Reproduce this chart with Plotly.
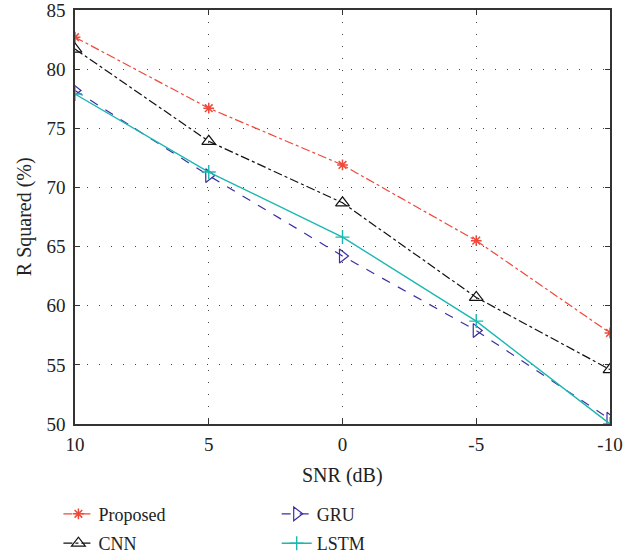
import plotly.graph_objects as go

snr = [10, 5, 0, -5, -10]
proposed = [82.7, 76.7, 71.9, 65.5, 57.7]
cnn = [81.7, 73.9, 68.7, 60.7, 54.6]
gru = [78.2, 71.0, 64.2, 57.9, 50.4]
lstm = [77.9, 71.3, 65.8, 58.7, 50.0]
x_ticks = [10, 5, 0, -5, -10]
y_ticks = [50, 55, 60, 65, 70, 75, 80, 85]

FONT = "Liberation Serif"
fig = go.Figure()
fig.add_trace(go.Scatter(x=snr, y=proposed, name="Proposed", mode="lines+markers",
    line=dict(color="#f0483a", width=1.2, dash="dashdot"),
    marker=dict(symbol="asterisk-open", size=9, color="#f0483a", line=dict(width=1.5, color="#f0483a")),
    legend="legend", legendgroup="a"))
fig.add_trace(go.Scatter(x=snr, y=cnn, name="CNN", mode="lines+markers",
    line=dict(color="#111111", width=1.2, dash="dashdot"),
    marker=dict(symbol="triangle-up-open", size=12, color="#111111", line=dict(width=1.2, color="#111111")),
    legend="legend", legendgroup="b"))
fig.add_trace(go.Scatter(x=snr, y=gru, name="GRU", mode="lines+markers",
    line=dict(color="#3b2fa0", width=1.2, dash="dash"),
    marker=dict(symbol="triangle-right-open", size=12, color="#3b2fa0", line=dict(width=1.2, color="#3b2fa0")),
    legend="legend2", legendgroup="c"))
fig.add_trace(go.Scatter(x=snr, y=lstm, name="LSTM", mode="lines+markers",
    line=dict(color="#1ab8b0", width=1.4),
    marker=dict(symbol="cross-thin-open", size=10, color="#1ab8b0", line=dict(width=1.4, color="#1ab8b0")),
    legend="legend2", legendgroup="d"))

axis_common = dict(showline=True, linecolor="#333", linewidth=1.5, mirror="ticks",
                   ticks="inside", ticklen=5, tickcolor="#333", automargin=False,
                   ticklabeloverflow="allow",
                   showgrid=True, gridcolor="#444", griddash="1px,11px", gridwidth=1.2,
                   zeroline=False, tickfont=dict(family=FONT, size=19, color="#222"))
fig.update_xaxes(range=[10, -10], tickvals=x_ticks, ticktext=[str(v) for v in x_ticks],
                 ticklabelstandoff=2, **axis_common)
fig.update_yaxes(range=[50, 85], tickvals=y_ticks, ticklabelstandoff=4, **axis_common)

fig.add_annotation(text="SNR (dB)", xref="paper", yref="paper", x=0.5, y=-0.125,
                   xanchor="center", yanchor="middle", showarrow=False,
                   font=dict(family=FONT, size=20, color="#222"))
fig.add_annotation(text="R Squared (%)", xref="paper", yref="paper", x=-0.095, y=0.5,
                   xanchor="center", yanchor="middle", textangle=-90, showarrow=False,
                   font=dict(family=FONT, size=20, color="#222"))

leg = dict(font=dict(family=FONT, size=18, color="#222"), bgcolor="rgba(0,0,0,0)",
           orientation="v", yanchor="top", xanchor="left", traceorder="grouped", tracegroupgap=3)
fig.update_layout(
    width=643, height=555,
    margin=dict(l=75, r=33, t=10, b=131, autoexpand=False),
    plot_bgcolor="white", paper_bgcolor="white",
    legend=dict(x=-0.031, y=-0.173, **leg),
    legend2=dict(x=0.377, y=-0.173, **leg),
    font=dict(family=FONT),
)
fig.write_html("out.html", config={"displayModeBar": False},
               post_script="document.body.style.margin='0';")
